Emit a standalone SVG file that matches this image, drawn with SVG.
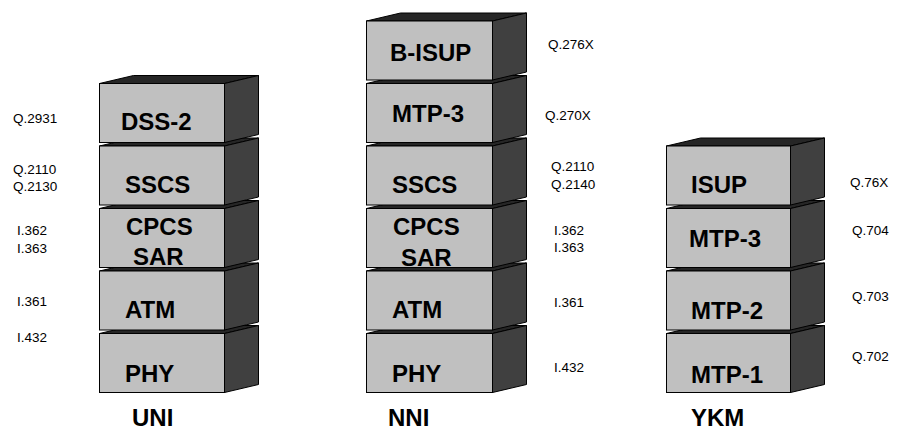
<svg xmlns="http://www.w3.org/2000/svg" width="899" height="430" viewBox="0 0 899 430">
<style>
.front{fill:#c0c0c0;stroke:#000;stroke-width:1}
.side{fill:#404040;stroke:#000;stroke-width:1}
.top{fill:#262626;stroke:#000;stroke-width:1}
.lbl{font-family:"Liberation Sans",Arial,sans-serif;font-weight:bold;font-size:24px;fill:#000}
.ref{font-family:"Liberation Sans",Arial,sans-serif;font-size:13.5px;fill:#000}
</style>
<rect width="899" height="430" fill="#fff"/>
<defs>
<g id="boxU">
<polygon class="top" points="0,0 34,-8 159,-8 125,0"/>
<polygon class="side" points="125,0 159,-8 159,51 125,59"/>
<rect class="front" x="0" y="0" width="125" height="59"/>
</g>
<g id="boxN">
<polygon class="top" points="0,0 34,-8 160,-8 126,0"/>
<polygon class="side" points="126,0 160,-8 160,51 126,59"/>
<rect class="front" x="0" y="0" width="126" height="59"/>
</g>
<g id="boxY">
<polygon class="top" points="0,0 34,-8 158,-8 124,0"/>
<polygon class="side" points="124,0 158,-8 158,51 124,59"/>
<rect class="front" x="0" y="0" width="124" height="59"/>
</g>
</defs>
<g id="connectors"/>
<g id="uni">
<g id="uni-phy"><use href="#boxU" x="99.5" y="333.5"/><text class="lbl" x="125" y="382">PHY</text></g>
<g id="uni-atm"><use href="#boxU" x="99.5" y="271"/><text class="lbl" x="125" y="318">ATM</text></g>
<g id="uni-cpcs"><use href="#boxU" x="99.5" y="208.5"/><text class="lbl" x="126" y="235">CPCS</text><text class="lbl" x="133" y="265">SAR</text></g>
<g id="uni-sscs"><use href="#boxU" x="99.5" y="146"/><text class="lbl" x="125" y="193">SSCS</text></g>
<g id="uni-dss2"><use href="#boxU" x="99.5" y="83.5"/><text class="lbl" x="121" y="130">DSS-2</text></g>
<text class="lbl" x="132" y="426">UNI</text>
<text class="ref" x="13" y="123">Q.2931</text>
<text class="ref" x="13" y="174">Q.2110</text>
<text class="ref" x="13" y="191">Q.2130</text>
<text class="ref" x="17" y="235">I.362</text>
<text class="ref" x="17" y="253">I.363</text>
<text class="ref" x="17" y="306">I.361</text>
<text class="ref" x="17" y="342">I.432</text>
</g>
<g id="nni">
<g id="nni-phy"><use href="#boxN" x="366.5" y="333.5"/><text class="lbl" x="392" y="382">PHY</text></g>
<g id="nni-atm"><use href="#boxN" x="366.5" y="271"/><text class="lbl" x="392" y="318">ATM</text></g>
<g id="nni-cpcs"><use href="#boxN" x="366.5" y="208.5"/><text class="lbl" x="393" y="235">CPCS</text><text class="lbl" x="401" y="266">SAR</text></g>
<g id="nni-sscs"><use href="#boxN" x="366.5" y="146"/><text class="lbl" x="392" y="193">SSCS</text></g>
<g id="nni-mtp3"><use href="#boxN" x="366.5" y="83.5"/><text class="lbl" x="392" y="122">MTP-3</text></g>
<g id="nni-bisup"><use href="#boxN" x="366.5" y="21"/><text class="lbl" x="390" y="61">B-ISUP</text></g>
<text class="lbl" x="388" y="426">NNI</text>
<text class="ref" x="548" y="49">Q.276X</text>
<text class="ref" x="545" y="120">Q.270X</text>
<text class="ref" x="551" y="171">Q.2110</text>
<text class="ref" x="551" y="189">Q.2140</text>
<text class="ref" x="554" y="235">I.362</text>
<text class="ref" x="554" y="252">I.363</text>
<text class="ref" x="554" y="307">I.361</text>
<text class="ref" x="554" y="372">I.432</text>
</g>
<g id="ykm">
<g id="ykm-mtp1"><use href="#boxY" x="666.5" y="333.5"/><text class="lbl" x="691" y="383">MTP-1</text></g>
<g id="ykm-mtp2"><use href="#boxY" x="666.5" y="271"/><text class="lbl" x="691" y="319">MTP-2</text></g>
<g id="ykm-mtp3"><use href="#boxY" x="666.5" y="208.5"/><text class="lbl" x="689" y="247">MTP-3</text></g>
<g id="ykm-isup"><use href="#boxY" x="666.5" y="146"/><text class="lbl" x="691" y="193">ISUP</text></g>
<text class="lbl" x="691" y="426">YKM</text>
<text class="ref" x="850" y="187">Q.76X</text>
<text class="ref" x="852" y="235">Q.704</text>
<text class="ref" x="852" y="301">Q.703</text>
<text class="ref" x="852" y="361">Q.702</text>
</g>
</svg>
